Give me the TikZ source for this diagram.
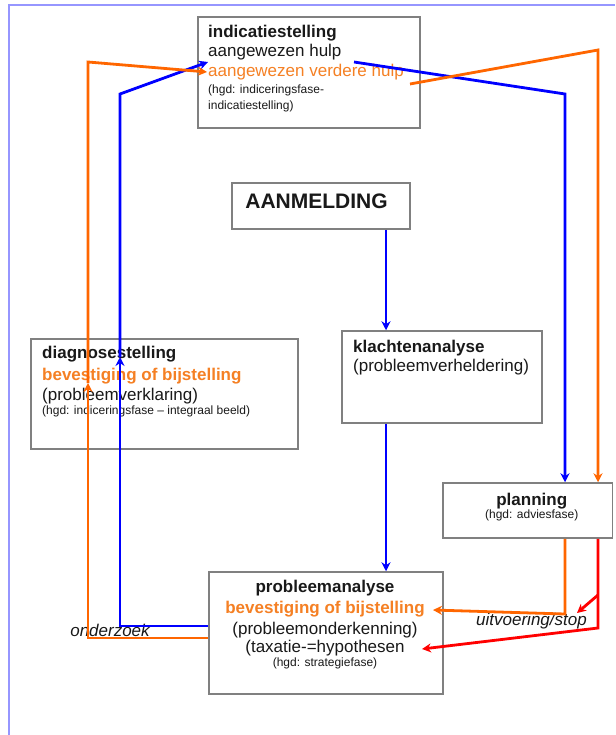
\documentclass[tikz,border=0pt]{standalone}
\usepackage{fontspec}
\setmainfont{Liberation Sans}
\usetikzlibrary{calc,arrows.meta,positioning}
\definecolor{oranje}{RGB}{255,102,0}
\definecolor{oranjetekst}{RGB}{245,128,36}
\definecolor{blauw}{RGB}{0,0,255}
\definecolor{rood}{RGB}{255,0,0}
\definecolor{kader}{RGB}{150,150,255}
\newcommand{\klein}{\fontsize{12}{14}\selectfont}
\tikzset{
  doos/.style={draw=black!50, line width=1.5pt, fill=white, inner sep=0pt},
  tekst/.style={inner sep=0pt, font=\fontsize{17}{19.5}\selectfont, text=black!90},
  pijl/.style={line width=2.8pt, -{Stealth[length=9pt,width=9pt]}},
  label/.style={inner sep=0pt, font=\fontsize{17}{19.5}\selectfont\itshape, text=black!90}
}

\begin{document}
\begin{tikzpicture}[x=1pt,y=-1pt]
\useasboundingbox (0,0) rectangle (615,735);
% kader
\draw[kader,line width=1.5pt](9,735)--(9,5)--(615,5);
% dozen
\node[doos,minimum width=222,minimum height=111] (indic)  at (309,72.5) {};
\node[doos,minimum width=178,minimum height=46]  (aanm)   at (321,206) {};
\node[doos,minimum width=267,minimum height=110] (diag)   at (164.5,394) {};
\node[doos,minimum width=200,minimum height=92]  (klacht) at (442,377) {};
\node[doos,minimum width=169.5,minimum height=55] (plan)  at (527.75,510.5) {};
\node[doos,minimum width=234,minimum height=122] (prob)   at (326,633) {};
% teksten
\node[tekst,anchor=north west,align=left] (indictekst) at (208,24.6)
  {\textbf{indicatiestelling}\\
   aangewezen hulp\\
   \textcolor{oranjetekst}{aangewezen verdere hulp}\\[-2.5pt]
   {\klein (hgd: indiceringsfase-}\\[-3.5pt]
   {\klein indicatiestelling)}};
\node[tekst,anchor=base,font=\fontsize{21}{24}\selectfont\bfseries] (aanmtekst) at (316.5,209) {AANMELDING};
\node[tekst,anchor=north west,align=left] (diagtekst) at (42,345.6)
  {\textbf{diagnosestelling}\\[3pt]
   \textcolor{oranjetekst}{\bfseries bevestiging of bijstelling}\\[0.5pt]
   (probleemverklaring)\\[-6pt]
   {\klein (hgd: indiceringsfase -- integraal beeld)}};
\node[tekst,anchor=north west,align=left] (klachttekst) at (353,339.6)
  {\textbf{klachtenanalyse}\\
   (probleemverheldering)};
\node[tekst,anchor=north,align=center] (plantekst) at (531.7,492.6)
  {\textbf{planning}\\[-6.5pt]
   {\klein (hgd: adviesfase)}};
\node[tekst,anchor=north,align=center] (probtekst) at (325,579.6)
  {\textbf{probleemanalyse}\\[1.5pt]
   \textcolor{oranjetekst}{\bfseries bevestiging of bijstelling}\\[1.5pt]
   (probleemonderkenning)\\[-1.5pt]
   (taxatie-=hypothesen\\[-5.5pt]
   {\klein (hgd: strategiefase)}};
\node[label,anchor=base] (onderzoek) at (110,636) {onderzoek};
\node[label,anchor=base] (uitvoering) at (531.5,625) {uitvoering/stop};
% punten
\coordinate (kolom) at (386,0);
\coordinate (diagblauw) at (120,357);
\coordinate (knikblauw) at (120,94);
\coordinate (hulpblauw) at (208,62);
\coordinate (hulpeind) at (354,62);
\coordinate (knikrechts) at (565,94);
\coordinate (verdereeind) at (410,84);
\coordinate (knikoranje) at (598,50);
\coordinate (diagoranje) at (88,383);
\coordinate (knikoranjelinks) at (88,62);
\coordinate (verderepijl) at (207,72);
\coordinate (hoekoranje) at (565,614);
\coordinate (bevestigingpijl) at (433,610);
\coordinate (hoekrood) at (598,628);
\coordinate (taxatiepijl) at (422,649);
\coordinate (takrood) at (598,595);
\coordinate (stoppijl) at (577,613);
% blauw
\draw[pijl,blauw](aanm.south -| kolom)--(klacht.north -| kolom);
\draw[pijl,blauw](klacht.south -| kolom)--(prob.north -| kolom);
\draw[pijl,blauw]([yshift=7pt]prob.west) -| (diagblauw);
\draw[pijl,blauw](diagblauw)--(knikblauw)--(hulpblauw);
\draw[pijl,blauw](hulpeind)--(knikrechts)--(knikrechts |- plan.north);
% oranje
\draw[pijl,oranje](verdereeind)--(knikoranje)--(knikoranje |- plan.north);
\draw[pijl,oranje]([yshift=-5pt]prob.west) -| (diagoranje);
\draw[pijl,oranje](diagoranje)--(knikoranjelinks)--(verderepijl);
\draw[pijl,oranje](plan.south -| hoekoranje)--(hoekoranje)--(bevestigingpijl);
% rood
\draw[pijl,rood](plan.south -| hoekrood)--(hoekrood)--(taxatiepijl);
\draw[pijl,rood](takrood)--(stoppijl);
\end{tikzpicture}
\end{document}
